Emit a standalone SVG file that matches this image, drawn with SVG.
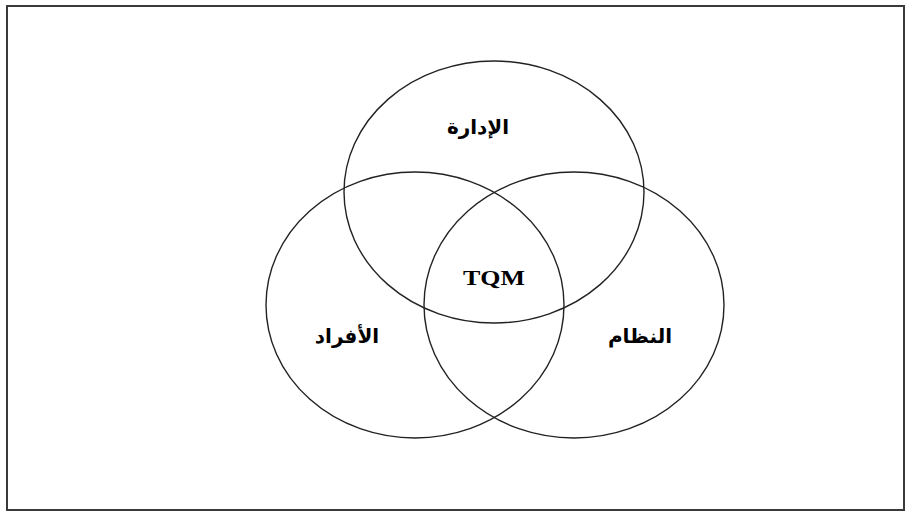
<svg xmlns="http://www.w3.org/2000/svg" width="914" height="516" viewBox="0 0 914 516">
<style>
.frame{fill:#fff;stroke:#3a3a3a;stroke-width:2}
.ring{fill:none;stroke:#222;stroke-width:1.4}
.ar{font-family:"DejaVu Sans",sans-serif;font-weight:bold;font-size:20px;fill:#000;text-anchor:middle}
.en{font-family:"Liberation Serif",serif;font-weight:bold;font-size:22px;fill:#000;text-anchor:middle}
</style>
<rect class="frame" x="7" y="6" width="897" height="504"/>
<g id="management">
<ellipse class="ring" cx="494" cy="192" rx="150" ry="131"/>
<text class="ar" x="478" y="134" direction="rtl">الإدارة</text>
</g>
<g id="people">
<ellipse class="ring" cx="415" cy="305" rx="149" ry="133"/>
<text class="ar" x="347" y="343" direction="rtl">الأفراد</text>
</g>
<g id="system">
<ellipse class="ring" cx="574" cy="305" rx="150" ry="133"/>
<text class="ar" x="640" y="343" direction="rtl">النظام</text>
</g>
<g id="tqm">
<text class="en" x="494" y="285" textLength="62" lengthAdjust="spacingAndGlyphs">TQM</text>
</g>
<g id="connectors"></g>
</svg>
